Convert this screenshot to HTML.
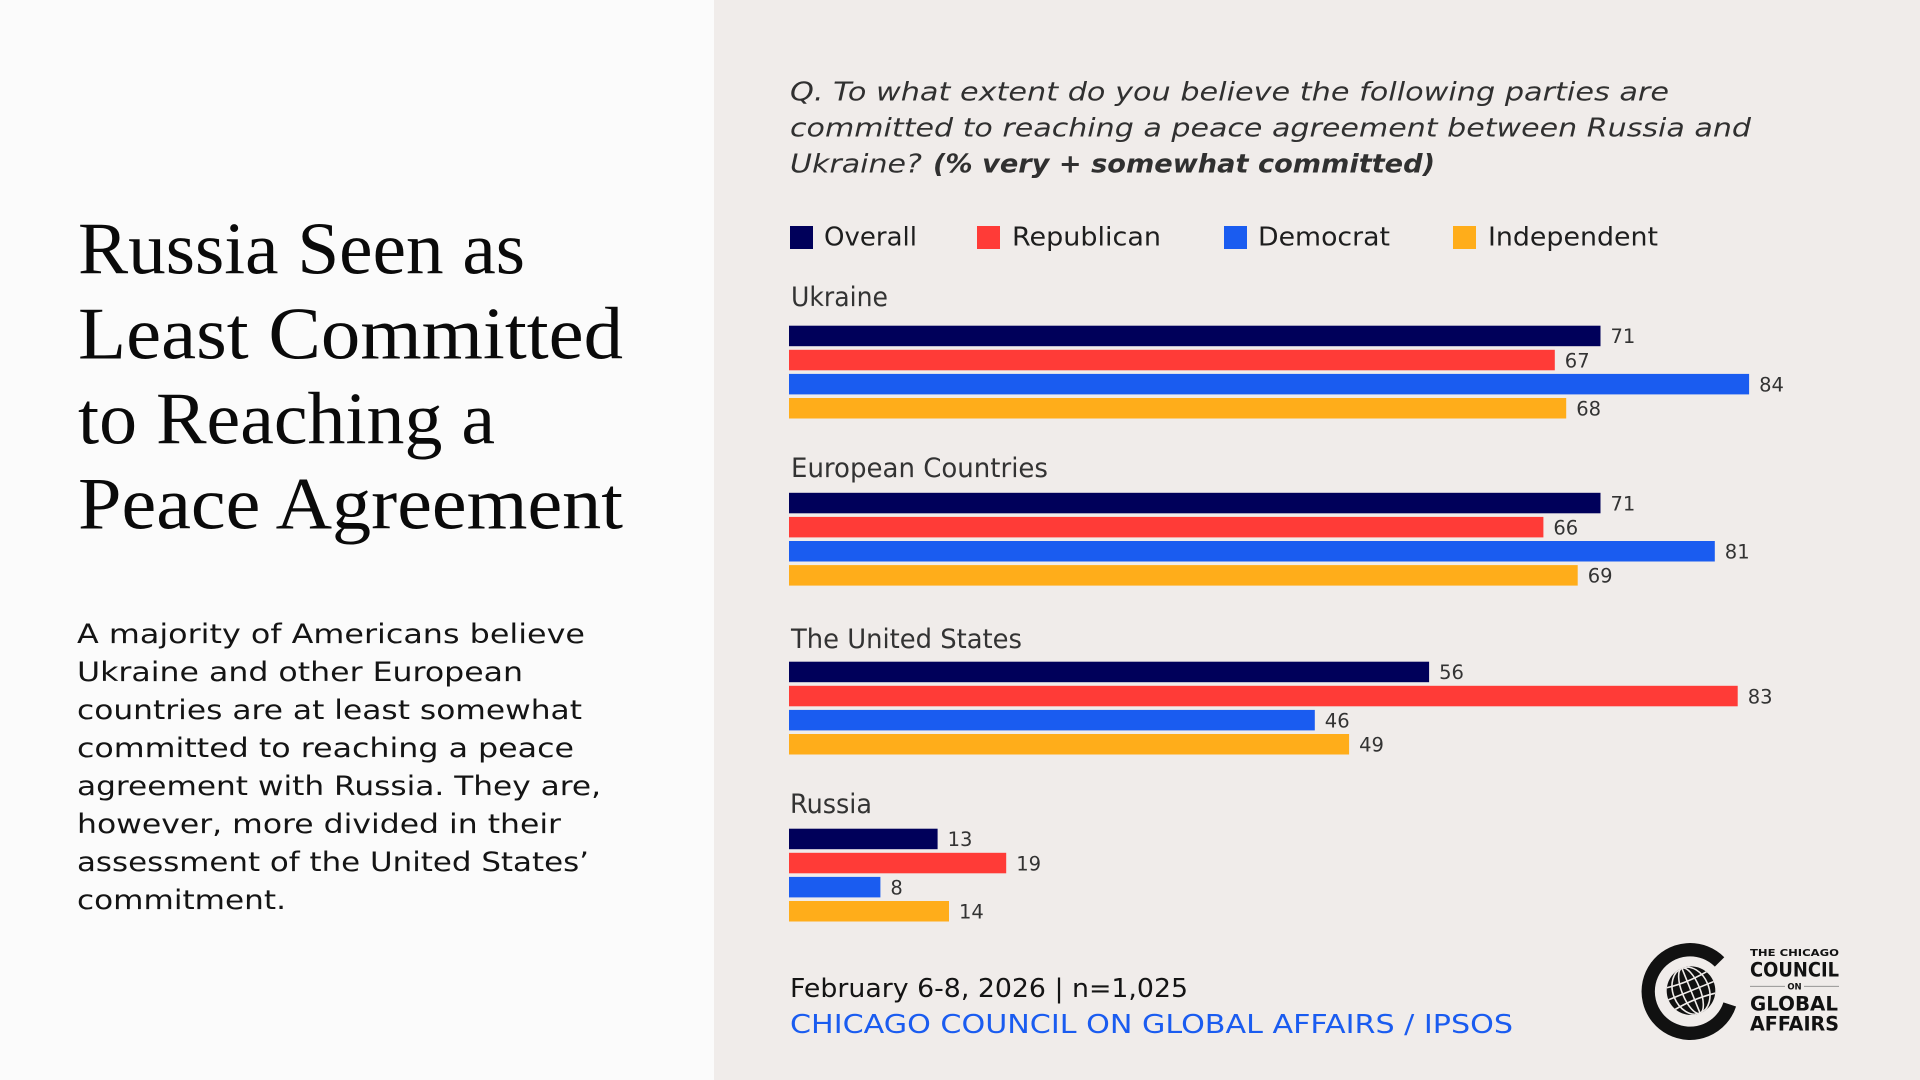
<!DOCTYPE html>
<html>
<head>
<meta charset="utf-8">
<style>
  html,body{margin:0;padding:0;width:1920px;height:1080px;overflow:hidden;background:#f0ecea;}
  svg{display:block;}
  .serif{font-family:"Liberation Serif","DejaVu Serif",serif;}
  .sans{font-family:"DejaVu Sans","Liberation Sans",sans-serif;}
</style>
</head>
<body>
<svg width="1920" height="1080" viewBox="0 0 1920 1080" xmlns="http://www.w3.org/2000/svg">
  <!-- backgrounds -->
  <rect x="0" y="0" width="714" height="1080" fill="#fbfbfb"/>
  <rect x="714" y="0" width="1206" height="1080" fill="#f0ecea"/>

  <!-- Title -->
  <g class="serif" font-size="74" fill="#0a0a0a">
    <text x="78" y="273.5" textLength="447" lengthAdjust="spacingAndGlyphs">Russia Seen as</text>
    <text x="78" y="358.5" textLength="545" lengthAdjust="spacingAndGlyphs">Least Committed</text>
    <text x="78" y="443.5" textLength="417" lengthAdjust="spacingAndGlyphs">to Reaching a</text>
    <text x="78" y="528.5" textLength="545" lengthAdjust="spacingAndGlyphs">Peace Agreement</text>
  </g>

  <!-- Body text -->
  <g class="sans" font-size="26.5" fill="#141414">
    <text x="77" y="643" textLength="508" lengthAdjust="spacingAndGlyphs">A majority of Americans believe</text>
    <text x="77" y="681" textLength="446" lengthAdjust="spacingAndGlyphs">Ukraine and other European</text>
    <text x="77" y="719" textLength="505" lengthAdjust="spacingAndGlyphs">countries are at least somewhat</text>
    <text x="77" y="757" textLength="497" lengthAdjust="spacingAndGlyphs">committed to reaching a peace</text>
    <text x="77" y="795" textLength="524" lengthAdjust="spacingAndGlyphs">agreement with Russia. They are,</text>
    <text x="77" y="833" textLength="484" lengthAdjust="spacingAndGlyphs">however, more divided in their</text>
    <text x="77" y="871" textLength="512" lengthAdjust="spacingAndGlyphs">assessment of the United States’</text>
    <text x="77" y="909" textLength="209" lengthAdjust="spacingAndGlyphs">commitment.</text>
  </g>

  <!-- Question -->
  <g class="sans" font-size="26" fill="#303030" font-style="italic">
    <text x="790" y="100.5" textLength="879" lengthAdjust="spacingAndGlyphs">Q. To what extent do you believe the following parties are</text>
    <text x="790" y="136.5" textLength="961" lengthAdjust="spacingAndGlyphs">committed to reaching a peace agreement between Russia and</text>
    <text x="790" y="172.5" textLength="132" lengthAdjust="spacingAndGlyphs">Ukraine?</text>
    <text x="933" y="172.5" textLength="502" lengthAdjust="spacingAndGlyphs" font-weight="bold">(% very + somewhat committed)</text>
  </g>

  <!-- Legend -->
  <g>
    <rect x="790" y="226" width="23" height="23" fill="#00005a"/>
    <rect x="977" y="226" width="23" height="23" fill="#ff3b37"/>
    <rect x="1224" y="226" width="23" height="23" fill="#1a5cf0"/>
    <rect x="1453" y="226" width="23" height="23" fill="#ffad1a"/>
  </g>
  <g class="sans" font-size="25.5" fill="#1e1e1e">
    <text x="824" y="245.5" textLength="93" lengthAdjust="spacingAndGlyphs">Overall</text>
    <text x="1012" y="245.5" textLength="149" lengthAdjust="spacingAndGlyphs">Republican</text>
    <text x="1258" y="245.5" textLength="132" lengthAdjust="spacingAndGlyphs">Democrat</text>
    <text x="1488" y="245.5" textLength="170" lengthAdjust="spacingAndGlyphs">Independent</text>
  </g>

  <!-- Group labels -->
  <g class="sans" font-size="26.5" fill="#333333">
    <text x="791" y="306" textLength="97" lengthAdjust="spacingAndGlyphs">Ukraine</text>
    <text x="791" y="477" textLength="257" lengthAdjust="spacingAndGlyphs">European Countries</text>
    <text x="791" y="648" textLength="231" lengthAdjust="spacingAndGlyphs">The United States</text>
    <text x="790" y="813" textLength="82" lengthAdjust="spacingAndGlyphs">Russia</text>
  </g>

  <!-- Bars -->
  <g>
    <!-- Ukraine -->
    <rect x="789" y="325.7" width="811.5" height="20.5" fill="#00005a"/>
    <rect x="789" y="349.8" width="765.8" height="20.5" fill="#ff3b37"/>
    <rect x="789" y="373.9" width="960.1" height="20.5" fill="#1a5cf0"/>
    <rect x="789" y="398.0" width="777.2" height="20.5" fill="#ffad1a"/>
    <!-- European -->
    <rect x="789" y="492.8" width="811.5" height="20.5" fill="#00005a"/>
    <rect x="789" y="516.9" width="754.4" height="20.5" fill="#ff3b37"/>
    <rect x="789" y="541.0" width="925.8" height="20.5" fill="#1a5cf0"/>
    <rect x="789" y="565.1" width="788.7" height="20.5" fill="#ffad1a"/>
    <!-- US -->
    <rect x="789" y="661.7" width="640.1" height="20.5" fill="#00005a"/>
    <rect x="789" y="685.8" width="948.7" height="20.5" fill="#ff3b37"/>
    <rect x="789" y="709.9" width="525.8" height="20.5" fill="#1a5cf0"/>
    <rect x="789" y="734.0" width="560.1" height="20.5" fill="#ffad1a"/>
    <!-- Russia -->
    <rect x="789" y="828.7" width="148.6" height="20.5" fill="#00005a"/>
    <rect x="789" y="852.8" width="217.2" height="20.5" fill="#ff3b37"/>
    <rect x="789" y="876.9" width="91.4" height="20.5" fill="#1a5cf0"/>
    <rect x="789" y="901.0" width="160.0" height="20.5" fill="#ffad1a"/>
  </g>

  <!-- Value labels -->
  <g class="sans" font-size="19.5" fill="#333333">
    <text x="1610.5" y="343.2">71</text>
    <text x="1564.8" y="367.3">67</text>
    <text x="1759.1" y="391.4">84</text>
    <text x="1576.2" y="415.5">68</text>

    <text x="1610.5" y="510.3">71</text>
    <text x="1553.4" y="534.4">66</text>
    <text x="1724.8" y="558.5">81</text>
    <text x="1587.7" y="582.6">69</text>

    <text x="1439.1" y="679.2">56</text>
    <text x="1747.7" y="703.3">83</text>
    <text x="1324.8" y="727.4">46</text>
    <text x="1359.1" y="751.5">49</text>

    <text x="947.6" y="846.2">13</text>
    <text x="1016.2" y="870.3">19</text>
    <text x="890.4" y="894.4">8</text>
    <text x="959.0" y="918.5">14</text>
  </g>

  <!-- Footer -->
  <g class="sans" font-size="26">
    <text x="790" y="997" fill="#141414" textLength="398" lengthAdjust="spacingAndGlyphs">February 6-8, 2026 | n=1,025</text>
    <text x="790" y="1033" fill="#1a5cf0" textLength="723" lengthAdjust="spacingAndGlyphs">CHICAGO COUNCIL ON GLOBAL AFFAIRS / IPSOS</text>
  </g>

  <!-- Logo -->
  <defs>
    <clipPath id="globeClip"><circle cx="1691" cy="990.7" r="24.3"/></clipPath>
  </defs>
  <path d="M1719.56,961.94 A41.8,41.8 0 1 0 1729.75,1004.42" fill="none" stroke="#111111" stroke-width="13.3"/>
  <circle cx="1691" cy="990.7" r="24.3" fill="#111111"/>
  <g clip-path="url(#globeClip)" fill="none" stroke="#f0ecea" stroke-width="1.6">
    <g transform="rotate(-22 1691 990.7)">
      <ellipse cx="1691" cy="990.7" rx="9" ry="24.3"/>
      <ellipse cx="1691" cy="990.7" rx="18" ry="24.3"/>
      <line x1="1691" y1="960" x2="1691" y2="1020"/>
      <path d="M1664,978 Q1691,983 1718,978"/>
      <path d="M1664,990.7 L1718,990.7"/>
      <path d="M1664,1003 Q1691,998 1718,1003"/>
    </g>
  </g>
  <g class="sans" font-weight="bold" fill="#111111">
    <text x="1750" y="956" font-size="9.5" textLength="89" lengthAdjust="spacingAndGlyphs">THE CHICAGO</text>
    <text x="1750" y="976.7" font-size="19.5" textLength="89" lengthAdjust="spacingAndGlyphs">COUNCIL</text>
    <text x="1794.5" y="989.5" font-size="8.5" text-anchor="middle">ON</text>
    <text x="1750" y="1010.3" font-size="19.5" textLength="88" lengthAdjust="spacingAndGlyphs">GLOBAL</text>
    <text x="1750" y="1030.7" font-size="19.5" textLength="89" lengthAdjust="spacingAndGlyphs">AFFAIRS</text>
  </g>
  <line x1="1750" y1="986.3" x2="1785" y2="986.3" stroke="#888888" stroke-width="0.8"/>
  <line x1="1804" y1="986.3" x2="1839" y2="986.3" stroke="#888888" stroke-width="0.8"/>
</svg>
</body>
</html>
